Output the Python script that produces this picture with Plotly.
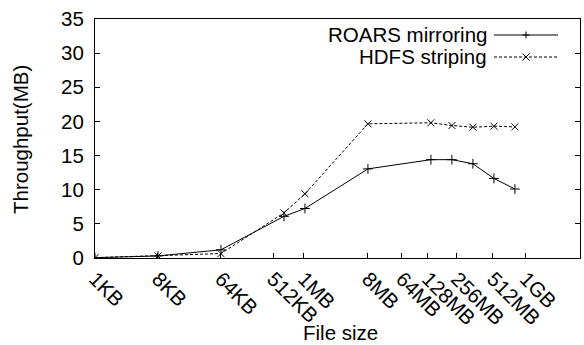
import math
import plotly.graph_objects as go

# File sizes (in KB) at which throughput was measured
sizes_kb = [1, 8, 64, 512, 1024, 8192, 65536, 131072, 262144, 524288, 1048576]

# Throughput (MB/s) per configuration
roars_mirroring = [0.05, 0.3, 1.2, 6.1, 7.25, 13.05, 14.4, 14.4, 13.8, 11.65, 10.1]
hdfs_striping = [0.05, 0.3, 0.65, 6.6, 9.4, 19.65, 19.8, 19.4, 19.15, 19.3, 19.2]

# X tick labels and where they sit on the log2(KB) axis
tick_labels = ["1KB", "8KB", "64KB", "512KB", "1MB", "8MB", "64MB", "128MB", "256MB", "512MB", "1GB"]
tick_pos = [0, 3, 6, 8.48, 9.95, 13, 14.62, 15.86, 17.24, 18.95, 20.52]

x = [math.log2(s) for s in sizes_kb]

FONT = "Liberation Sans, Arial, sans-serif"
FS = 20.5

fig = go.Figure()
fig.add_trace(go.Scatter(
    x=x, y=roars_mirroring, mode="lines+markers", name="ROARS mirroring",
    line=dict(color="black", width=1),
    marker=dict(symbol="cross-thin", size=7, line=dict(color="black", width=1)),
    showlegend=False,
))
fig.add_trace(go.Scatter(
    x=x, y=hdfs_striping, mode="lines+markers", name="HDFS striping",
    line=dict(color="black", width=1, dash="3px,2px"),
    marker=dict(symbol="x-thin", size=7, line=dict(color="black", width=1)),
    showlegend=False,
))

# Plot area in pixels
L, R, T, B = 95, 580, 19, 258


def px(xp):
    return (xp - L) / (R - L)


def py(yp):
    return (B - yp) / (B - T)


# Legend drawn gnuplot-style: right-aligned label, sample line to its right
legend_rows = [
    ("ROARS mirroring", 35, "solid", "plus"),
    ("HDFS striping", 57, "dash", "x"),
]
shapes = []
annotations = []
for label, yrow, dash, mk in legend_rows:
    annotations.append(dict(
        text=label, xref="paper", yref="paper", x=px(489), y=py(yrow),
        xanchor="right", yanchor="middle", showarrow=False,
        font=dict(family=FONT, size=FS, color="black"),
    ))
    shapes.append(dict(
        type="line", xref="paper", yref="paper",
        x0=px(494), x1=px(558), y0=py(yrow), y1=py(yrow),
        line=dict(color="black", width=1, dash="3px,2px" if dash == "dash" else "solid"),
    ))
    cx, cy, r = 526, yrow, 3.5
    if mk == "plus":
        segs = [(cx - r, cy, cx + r, cy), (cx, cy - r, cx, cy + r)]
    else:
        segs = [(cx - r, cy - r, cx + r, cy + r), (cx - r, cy + r, cx + r, cy - r)]
    for x0, y0, x1, y1 in segs:
        shapes.append(dict(
            type="line", xref="paper", yref="paper",
            x0=px(x0), x1=px(x1), y0=py(y0), y1=py(y1),
            line=dict(color="black", width=1),
        ))

# Axis titles
annotations.append(dict(
    text="File size", xref="paper", yref="paper", x=px(340), y=py(332),
    xanchor="center", yanchor="middle", showarrow=False,
    font=dict(family=FONT, size=FS, color="black"),
))
annotations.append(dict(
    text="Throughput(MB)", xref="paper", yref="paper", x=px(20), y=py(140),
    xanchor="center", yanchor="middle", showarrow=False, textangle=-90,
    font=dict(family=FONT, size=FS, color="black"),
))

fig.update_layout(
    width=584, height=345,
    margin=dict(l=L, r=584 - R, t=T, b=345 - B),
    paper_bgcolor="white", plot_bgcolor="white",
    font=dict(family=FONT, size=FS, color="black"),
    shapes=shapes, annotations=annotations,
)
fig.update_xaxes(
    range=[0, 23.1], tickmode="array", tickvals=tick_pos, ticktext=tick_labels,
    tickangle=45, ticks="inside", ticklen=5, tickcolor="black", tickwidth=1,
    showline=True, linecolor="black", linewidth=1, mirror=True,
    showgrid=False, zeroline=False, automargin=False,
)
fig.update_yaxes(
    range=[0, 35], dtick=5, ticks="inside", ticklen=5, tickcolor="black", tickwidth=1,
    showline=True, linecolor="black", linewidth=1, mirror="ticks",
    showgrid=False, zeroline=False, ticklabelstandoff=6, automargin=False,
)

fig.write_html("out.html")
